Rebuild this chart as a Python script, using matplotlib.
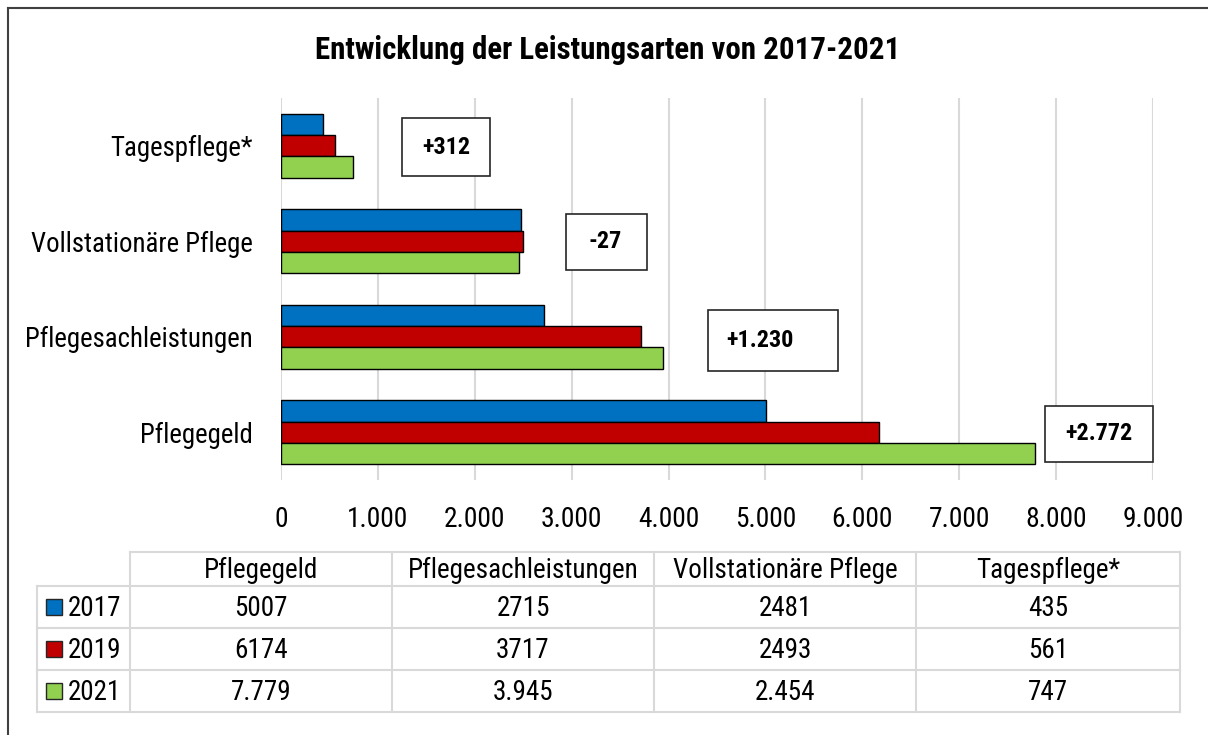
import matplotlib
matplotlib.use("Agg")
import matplotlib.pyplot as plt
from matplotlib import font_manager
from matplotlib.patches import Rectangle
from matplotlib.ticker import FuncFormatter

# the chart uses a narrow Arial-like face; pick one if there is one
# sizes: title, category labels, ticks, table, boxes
installed = {f.name for f in font_manager.fontManager.ttflist}
if "Liberation Sans Narrow" in installed:
    face, sz = "Liberation Sans Narrow", (23, 21.5, 21.5, 21, 19.5)
elif "Roboto Condensed" in installed:
    face, sz = "Roboto Condensed", (22.2, 19.4, 19.8, 19.5, 17.5)
else:
    face, sz = "Liberation Sans", (18.9, 17.6, 17.6, 17.2, 16)
plt.rcParams['font.family'] = [face, 'DejaVu Sans']
fs_title, fs_cat, fs_tick, fs_tab, fs_box = sz

# data (chart order bottom -> top, same as table order left -> right)
categories = ["Pflegegeld", "Pflegesachleistungen", "Vollstationäre Pflege", "Tagespflege*"]
years = ["2017", "2019", "2021"]
v2017 = [5007, 2715, 2481, 435]
v2019 = [6174, 3717, 2493, 561]
v2021 = [7779, 3945, 2454, 747]
colors = ["#0070C0", "#C00000", "#92D050"]

# annotation boxes (x range in values, y range in category units)
box_x = [(7885, 9000), (4407, 5749), (2941, 3777), (1249, 2157)]
box_y = [(-0.31, 0.275), (0.64, 1.28), (1.70, 2.285), (2.68, 3.29)]
box_tx = [8443, 4944, 3344, 1703]


def de(n):
    return f"{abs(n):,}".replace(",", ".")


W, H = 1208, 735
fig = plt.figure(figsize=(W / 100, H / 100), dpi=100)

# background / frame axes in pixel coords
bg = fig.add_axes([0, 0, 1, 1])
bg.set_xlim(0, W)
bg.set_ylim(H, 0)
bg.axis("off")
bg.plot([8, 8], [8, H + 5], color="#404040", lw=1.5)
bg.plot([8, W + 5], [8, 8], color="#404040", lw=1.5)
bg.text(608, 50, "Entwicklung der Leistungsarten von 2017-2021",
        ha="center", va="center", fontsize=fs_title, fontweight="bold")

# bar chart
ax = fig.add_axes([281 / W, 1 - 480 / H, (1153 - 281) / W, (480 - 98) / H])
h = 0.224
ypos = range(len(categories))
for k, vals in enumerate([v2017, v2019, v2021]):
    off = h * (1 - k)
    ax.barh([y + off for y in ypos], vals, height=h, color=colors[k],
            edgecolor="black", linewidth=1, zorder=3)
ax.set_xlim(0, 9000)
ax.set_ylim(-0.5, 3.5)
ax.set_xticks(range(0, 9001, 1000))
ax.xaxis.set_major_formatter(FuncFormatter(lambda x, p: de(int(x))))
ax.set_yticks(list(ypos))
ax.set_yticklabels(categories)
ax.tick_params(axis="x", length=0, pad=19, labelsize=fs_tick)
ax.tick_params(axis="y", length=0, pad=20, labelsize=fs_cat)
ax.xaxis.grid(True, color="#d9d9d9", lw=1.5, zorder=0)
for s in ax.spines.values():
    s.set_visible(False)

for i in range(len(categories)):
    diff = v2021[i] - v2017[i]
    label = ("+" if diff > 0 else "-") + de(diff)
    x0, x1 = box_x[i]
    y0, y1 = box_y[i]
    ax.add_patch(Rectangle((x0, y0), x1 - x0, y1 - y0, facecolor="white",
                           edgecolor="#262626", lw=1.2, zorder=5, clip_on=False))
    ax.text(box_tx[i], (y0 + y1) / 2, label, ha="center", va="center",
            fontsize=fs_box, fontweight="bold", zorder=6, clip_on=False)

# data table
gc = "#d9d9d9"
col_edges = [130, 392, 654, 916, 1180]
row_edges = [552, 586, 628, 670, 712]
tab_left = 37
bg.plot([col_edges[0], col_edges[-1]], [row_edges[0]] * 2, color=gc, lw=1.5)
for r in row_edges[1:]:
    bg.plot([tab_left, col_edges[-1]], [r, r], color=gc, lw=1.5)
bg.plot([tab_left, tab_left], [row_edges[1], row_edges[-1]], color=gc, lw=1.5)
for c in col_edges:
    bg.plot([c, c], [row_edges[0], row_edges[-1]], color=gc, lw=1.5)

for j, cat in enumerate(categories):
    cx = (col_edges[j] + col_edges[j + 1]) / 2
    bg.text(cx, (row_edges[0] + row_edges[1]) / 2 + 1, cat, ha="center", va="center", fontsize=fs_tab)

for k, vals in enumerate([v2017, v2019, v2021]):
    cy = (row_edges[k + 1] + row_edges[k + 2]) / 2
    bg.add_patch(Rectangle((46, cy - 8), 16, 16, facecolor=colors[k], edgecolor="#262626", lw=1))
    bg.text(68, cy + 1, years[k], ha="left", va="center", fontsize=fs_tab)
    for j, v in enumerate(vals):
        cx = (col_edges[j] + col_edges[j + 1]) / 2
        txt = de(v) if years[k] == "2021" else str(v)
        bg.text(cx, cy + 1, txt, ha="center", va="center", fontsize=fs_tab)

fig.savefig("out.png", dpi=100)
